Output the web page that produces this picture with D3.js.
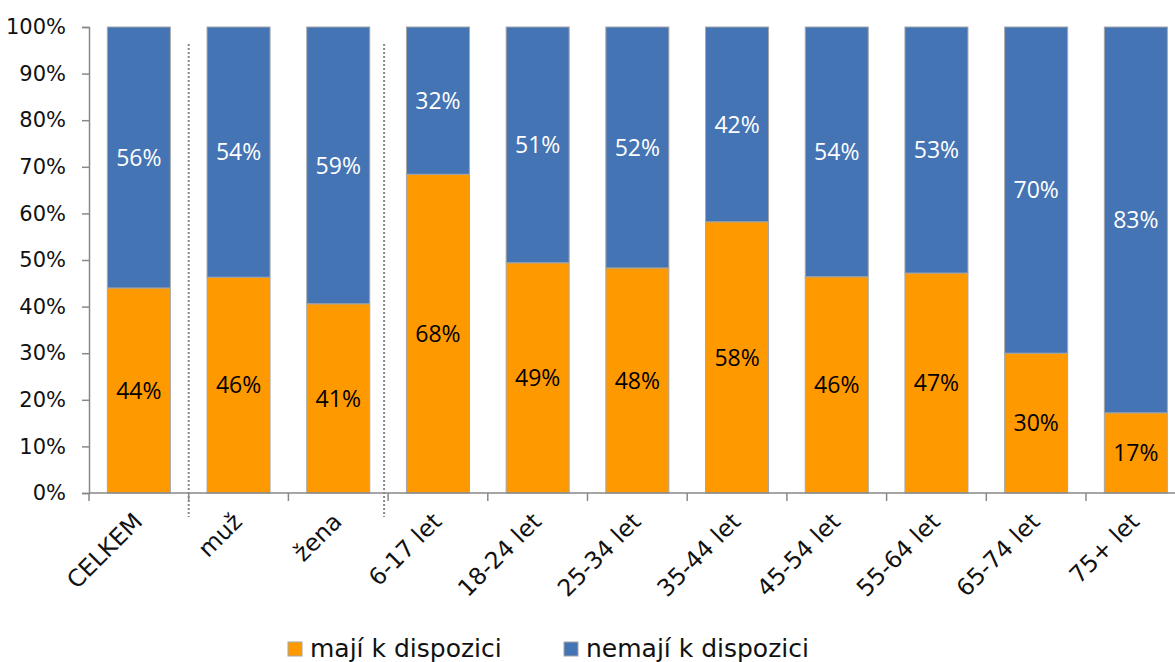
<!DOCTYPE html>
<html><head><meta charset="utf-8">
<script src="https://cdn.jsdelivr.net/npm/d3@7"></script>
<style>body{margin:0;background:#fff}svg{display:block}</style>
</head><body>
<svg id="c" width="1175" height="662"></svg>
<script>
const categories = ["CELKEM","muž","žena","6-17 let","18-24 let","25-34 let","35-44 let","45-54 let","55-64 let","65-74 let","75+ let"];
const maji = [44, 46.3, 40.6, 68.4, 49.4, 48.3, 58.2, 46.4, 47.2, 30, 17.2];
const nemaji = [56, 53.7, 59.4, 31.6, 50.6, 51.7, 41.8, 53.6, 52.8, 70, 82.8];
const seriesNames = ["mají k dispozici","nemají k dispozici"];
const yTicks = [0,10,20,30,40,50,60,70,80,90,100];
const separatorsAfter = ["CELKEM","žena"];

(function(){
const colors = ["#ff9900","#4474b4"];
const labelColors = ["#000","#fff"];
const axisFont = "'DejaVu Sans',sans-serif";
const valFont = "'Open Sans','Noto Sans',sans-serif";

const svg = d3.select("#c");
const mLeft = 89, mTop = 27, mBottom = 493, bandW = 99.7;
const x = d3.scaleBand().domain(categories).range([mLeft, mLeft + bandW*categories.length]).paddingInner(0.368).paddingOuter(0.184);
const y = d3.scaleLinear().domain([0,100]).range([mBottom, mTop]);

const data = categories.map((c,i)=>({cat:c, maji:maji[i], nemaji:nemaji[i]}));
const stack = d3.stack().keys(["maji","nemaji"])(data);

stack.forEach((s,si)=>{
  svg.append("g").selectAll("rect").data(s).join("rect")
    .attr("x", d=>x(d.data.cat)).attr("width", x.bandwidth())
    .attr("y", d=>y(d[1])).attr("height", d=>y(d[0])-y(d[1]))
    .attr("fill", colors[si]).attr("stroke","#a6a6a6").attr("stroke-width",1);
});
stack.forEach((s,si)=>{
  svg.append("g").selectAll("text").data(s).join("text")
    .attr("x", d=>x(d.data.cat)+x.bandwidth()/2)
    .attr("y", d=>y((d[0]+d[1])/2))
    .attr("dy","0.36em").attr("text-anchor","middle")
    .attr("font-family", valFont).attr("font-size", 23)
    .attr("fill", labelColors[si])
    .text(d=>Math.round(d[1]-d[0])+"%");
});

const ya = svg.append("g").attr("transform",`translate(${mLeft},0)`)
  .call(d3.axisLeft(y).tickValues(yTicks).tickSize(7).tickFormat(d=>d+"%"));
ya.select(".domain").attr("stroke","#888").attr("stroke-width",1.5);
ya.selectAll(".tick line").attr("stroke","#888").attr("stroke-width",1.5);
ya.selectAll(".tick text").attr("font-family",axisFont).attr("font-size",21).attr("fill","#111").attr("x",-23);

const xa = svg.append("g").attr("transform",`translate(0,${mBottom})`);
xa.append("line").attr("x1",mLeft).attr("x2",mLeft+bandW*categories.length).attr("stroke","#888").attr("stroke-width",1.5);
xa.selectAll("line.t").data(d3.range(categories.length+1)).join("line").attr("class","t")
  .attr("x1",i=>mLeft+i*bandW).attr("x2",i=>mLeft+i*bandW).attr("y1",0).attr("y2",8)
  .attr("stroke","#888").attr("stroke-width",1.5);
xa.selectAll("text").data(categories).join("text")
  .attr("transform", d=>`translate(${x(d)+x.bandwidth()/2+5},${30}) rotate(-45)`)
  .attr("text-anchor","end")
  .attr("font-family",axisFont).attr("font-size",23.5).attr("fill","#111")
  .text(d=>d);

separatorsAfter.forEach((c,k)=>{
  const xs = x(c)+x.bandwidth() + (x.step()-x.bandwidth())/2 - (k===1?4:0);
  svg.append("line").attr("x1",xs).attr("x2",xs).attr("y1",44).attr("y2",517)
    .attr("stroke","#888").attr("stroke-width",2).attr("stroke-dasharray","2,2");
});

const legX = [288, 564];
seriesNames.forEach((n,i)=>{
  const g = svg.append("g").attr("transform",`translate(${legX[i]},642)`);
  g.append("rect").attr("width",14).attr("height",14).attr("fill",colors[i]).attr("stroke","#a6a6a6");
  g.append("text").attr("x",22).attr("y",15).attr("font-family",axisFont).attr("font-size",25).attr("fill","#111").text(n);
});
})();
</script>
</body></html>
